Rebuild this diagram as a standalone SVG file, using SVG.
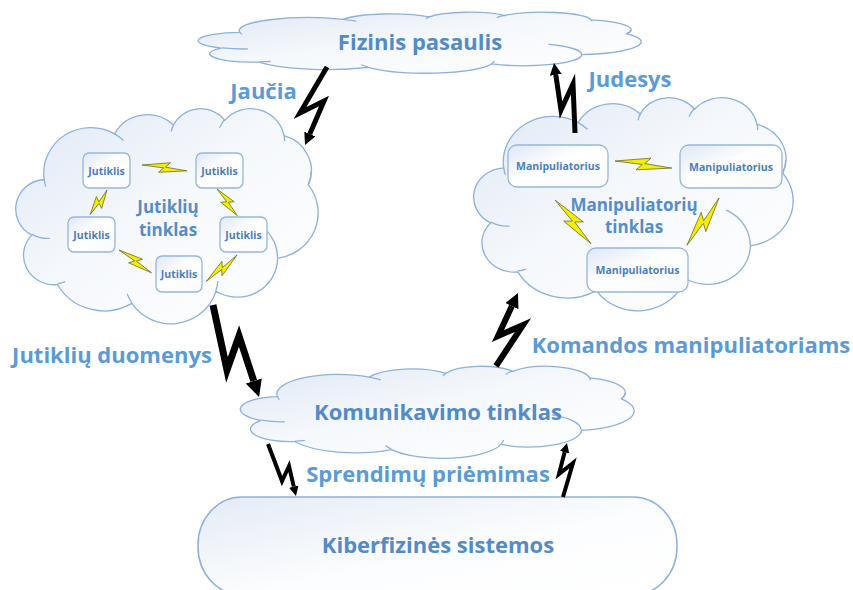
<svg xmlns="http://www.w3.org/2000/svg" width="853" height="590" viewBox="0 0 853 590">
  <style>
    .cloud { fill: url(#cloudFill); stroke: #8db1dc; stroke-width: 1.3; }
    .cloud-inner { fill: none; stroke: #8db1dc; stroke-width: 1.3; }
    .box { fill: url(#boxFill); stroke: #95b6de; stroke-width: 1.3; }
    .pill { fill: url(#pillFill); stroke: #8db1dc; stroke-width: 1.5; }
    .flash { fill: #f4ee00; stroke: #6b6b2a; stroke-width: 0.8; }
    .bolt { fill: none; stroke: #000; stroke-linejoin: miter; stroke-miterlimit: 10; marker-end: url(#bolt-head); }
    text { font-family: "Open Sans", "Liberation Sans", sans-serif; font-weight: bold; text-anchor: middle; }
    .title { fill: #528bc8; font-size: 22px; }
    .lbl { fill: #5b9bd5; font-size: 22px; }
    .net { fill: #558dca; font-size: 17px; }
    .node { fill: #4a7fbd; font-size: 10.5px; }
  </style>
  <defs>
    <linearGradient id="cloudFill" x1="0" y1="0" x2="1" y2="1">
      <stop offset="0" stop-color="#dfe8f5"/>
      <stop offset="0.45" stop-color="#f5f8fc"/>
      <stop offset="1" stop-color="#ffffff"/>
    </linearGradient>
    <linearGradient id="boxFill" x1="0" y1="0" x2="1" y2="1">
      <stop offset="0" stop-color="#dde7f4"/>
      <stop offset="0.45" stop-color="#ffffff"/>
      <stop offset="1" stop-color="#f7f9fc"/>
    </linearGradient>
    <linearGradient id="pillFill" x1="0" y1="0" x2="1" y2="1">
      <stop offset="0" stop-color="#e4ebf6"/>
      <stop offset="0.55" stop-color="#fcfdfe"/>
      <stop offset="1" stop-color="#ffffff"/>
    </linearGradient>
    <!-- cloud outline in a 100 x 100 box -->
    <path id="cloud" vector-effect="non-scaling-stroke" d="M9.03,33.26 A15.63,21.27 0 0 1 32.42,12.04 A12.34,16.82 0 0 1 51.98,7.94 A10.1,13.76 0 0 1 69.06,5.74 A11.24,15.27 0 0 1 88.7,12.9 A12.34,16.84 0 0 1 96.8,35.78 A15.68,21.34 0 0 1 86.58,69.91 A13.39,18.21 0 0 1 66.1,85.21 A15.63,21.33 0 0 1 38.15,90.89 A17.87,24.41 0 0 1 13.44,82.1 A10.09,13.7 0 0 1 4.89,59.13 A10.06,13.76 0 0 1 9.03,33.26 Z"/>
    <!-- short inner strokes of the cloud bumps -->
    <path id="cloud-inner" vector-effect="non-scaling-stroke" d="M10.86,60.6 A10.06,13.76 0 0 1 5,58.75 M16.04,80.78 A10.09,13.7 0 0 1 13.47,81.67 M38.14,90.49 A15.63,21.33 0 0 1 36.6,86.45 M66.73,80.44 A15.63,21.33 0 0 1 66.11,84.86 M79,53.13 A13.39,18.21 0 0 1 86.53,69.65 M96.75,35.54 A12.34,16.84 0 0 0 97.75,29.46 M88.71,12.56 A11.24,15.27 0 0 1 88.89,15.49 M67.31,9.15 A11.24,15.27 0 0 1 69.03,5.41 M51.25,10.93 A10.1,13.76 0 0 1 52.08,7.71 M32.41,12.02 A15.63,21.27 0 0 1 35.41,15.14 M9.55,36.55 A15.63,21.27 0 0 1 9.03,33.26"/>
    <!-- yellow wireless flash, 100 units long -->
    <path id="flash" vector-effect="non-scaling-stroke" d="M0,0 L62,-12 L52,-1 L100,2 L38,12 L48,1 Z"/>
    <marker id="bolt-head" viewBox="0 0 10 10" refX="0" refY="5" markerWidth="2.4" markerHeight="2.4" orient="auto" markerUnits="strokeWidth">
      <path d="M0,0 L10,5 L0,10 Z" fill="#000"/>
    </marker>
  </defs>

  <!-- physical world -->
  <g id="fizinis-pasaulis">
    <g transform="translate(200,12) scale(4.41,0.61)">
      <use href="#cloud" class="cloud"/>
      <use href="#cloud-inner" class="cloud-inner"/>
    </g>
    <text class="title" x="420" y="50">Fizinis pasaulis</text>
  </g>

  <!-- sensor network -->
  <g id="jutikliu-tinklas">
    <g transform="translate(17,108) scale(3.01,2.15)">
      <use href="#cloud" class="cloud"/>
      <use href="#cloud-inner" class="cloud-inner"/>
    </g>
    <text class="net" x="168" y="213">Jutiklių</text>
    <text class="net" x="168" y="236">tinklas</text>
    <g id="jutiklis-1"><rect class="box" x="83" y="153" width="47" height="35" rx="6"/><text class="node" x="106.5" y="174.5">Jutiklis</text></g>
    <g id="jutiklis-2"><rect class="box" x="196" y="153" width="47" height="35" rx="6"/><text class="node" x="219.5" y="174.5">Jutiklis</text></g>
    <g id="jutiklis-3"><rect class="box" x="68" y="217" width="47" height="35" rx="6"/><text class="node" x="91.5" y="238.5">Jutiklis</text></g>
    <g id="jutiklis-4"><rect class="box" x="220" y="217" width="47" height="35" rx="6"/><text class="node" x="243.5" y="238.5">Jutiklis</text></g>
    <g id="jutiklis-5"><rect class="box" x="156" y="256" width="46" height="36" rx="6"/><text class="node" x="179" y="278">Jutiklis</text></g>
    <g id="jutikliu-rysiai">
      <use href="#flash" class="flash" transform="translate(142,165) rotate(6.3) scale(0.453,0.45)"/>
      <use href="#flash" class="flash" transform="translate(107,190) rotate(122.6) scale(0.297,0.45)"/>
      <use href="#flash" class="flash" transform="translate(217,189) rotate(51.1) scale(0.334,0.45)"/>
      <use href="#flash" class="flash" transform="translate(119,250) rotate(33.7) scale(0.397,0.45)"/>
      <use href="#flash" class="flash" transform="translate(237,255) rotate(138) scale(0.404,0.45)"/>
    </g>
  </g>

  <!-- actuator network -->
  <g id="manipuliatoriu-tinklas">
    <g transform="translate(475,97) scale(3.18,2.13)">
      <use href="#cloud" class="cloud"/>
      <use href="#cloud-inner" class="cloud-inner"/>
    </g>
    <text class="net" x="634" y="211">Manipuliatorių</text>
    <text class="net" x="634" y="233">tinklas</text>
    <g id="manipuliatorius-1"><rect class="box" x="508" y="145" width="100" height="42" rx="9"/><text class="node" x="558" y="170">Manipuliatorius</text></g>
    <g id="manipuliatorius-2"><rect class="box" x="680" y="145" width="102" height="43" rx="9"/><text class="node" x="731" y="170.5">Manipuliatorius</text></g>
    <g id="manipuliatorius-3"><rect class="box" x="587" y="248" width="101" height="44" rx="9"/><text class="node" x="637.5" y="274">Manipuliatorius</text></g>
    <g id="manipuliatoriu-rysiai">
      <use href="#flash" class="flash" transform="translate(615,161) rotate(6) scale(0.573,0.55)"/>
      <use href="#flash" class="flash" transform="translate(555,200) rotate(49.3) scale(0.567,0.6)"/>
      <use href="#flash" class="flash" transform="translate(719,198) rotate(122.9) scale(0.571,0.6)"/>
    </g>
  </g>

  <!-- communication network -->
  <g id="komunikavimo-tinklas">
    <g transform="translate(242,366) scale(3.92,0.92)">
      <use href="#cloud" class="cloud"/>
      <use href="#cloud-inner" class="cloud-inner"/>
    </g>
    <text class="title" x="438" y="420">Komunikavimo tinklas</text>
  </g>

  <!-- cyber-physical systems -->
  <g id="kiberfizines-sistemos">
    <rect class="pill" x="198" y="497" width="479" height="98" rx="44" ry="48"/>
    <text class="title" x="438" y="553">Kiberfizinės sistemos</text>
  </g>

  <!-- links between the layers -->
  <g id="jungtys">
    <polyline class="bolt" stroke-width="5" points="327,67 300,113 324,101 309.8,134"/>
    <polyline class="bolt" stroke-width="5" points="575,133 573,84 561,110 555.8,74.9"/>
    <polyline class="bolt" stroke-width="7" points="213,305 227,370 239,336 253.8,381"/>
    <polyline class="bolt" stroke-width="6" points="496,366 523,325 498,336 511.9,306.1"/>
    <polyline class="bolt" stroke-width="4" points="268,444 282,481 289,466 293.8,486.6"/>
    <polyline class="bolt" stroke-width="4" points="563,497 573,463 559,474 564.6,452.3"/>
  </g>

  <!-- link labels -->
  <g id="uzrasai">
    <text class="lbl" x="263.5" y="99">Jaučia</text>
    <text class="lbl" x="630" y="87">Judesys</text>
    <text class="lbl" x="112" y="363">Jutiklių duomenys</text>
    <text class="lbl" x="691" y="353">Komandos manipuliatoriams</text>
    <text class="lbl" x="428" y="482">Sprendimų priėmimas</text>
  </g>
</svg>
